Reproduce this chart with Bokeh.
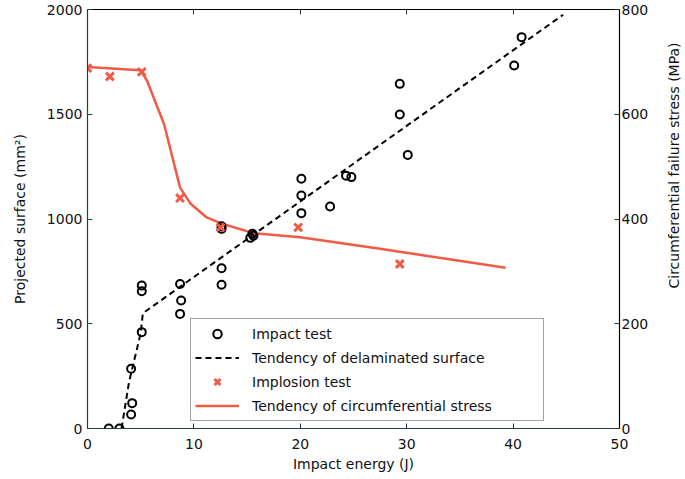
import math
from bokeh.plotting import figure
from bokeh.layouts import row
from bokeh.models import Range1d, LinearAxis, FixedTicker, Legend, LegendItem, Label
from bokeh.embed import file_html
from bokeh.resources import INLINE

# Impact test (projected surface, mm^2)
impact_x = [2.0, 3.0, 4.1, 4.2, 4.1, 5.1, 5.1, 5.1, 8.7, 8.8, 8.7, 12.6, 12.6, 12.6, 12.6,
            15.3, 15.6, 15.5, 20.1, 20.1, 20.1, 22.8, 24.3, 24.8, 29.35, 29.35, 30.1, 40.1, 40.8]
impact_y = [0, 0, 67, 121, 285, 460, 655, 682, 547, 611, 690, 686, 765, 953, 965,
            910, 920, 930, 1192, 1112, 1028, 1060, 1207, 1200, 1645, 1499, 1306, 1733, 1868]

# Tendency of delaminated surface
delam_x = [3.2, 3.9, 5.0, 5.2, 44.7]
delam_y = [0, 221, 455, 550, 1975]

# Implosion test (circumferential failure stress, MPa)
implo_x = [0.0, 2.1, 5.1, 8.7, 12.5, 19.8, 29.35]
implo_s = [688, 672, 681, 440, 384, 384, 314]

# Tendency of circumferential stress
stress_x = [0, 5, 5.6, 7.2, 8.7, 9.7, 11.2, 12.5, 15.6, 20, 27.5, 39.3]
stress_s = [690, 684, 664, 581, 460, 429, 403, 392, 373, 365, 343, 307]

x_ticks = [0, 10, 20, 30, 40, 50]
top_ticks = [10, 20, 30, 40]
y_ticks = [0, 500, 1000, 1500, 2000]
s_ticks = [0, 200, 400, 600, 800]

FONT = "DejaVu Sans"
FS = "14px"
RED = "#f25a45"
AXC = "#2a3a40"
H = 475

p = figure(width=662, height=H, output_backend="svg", toolbar_location=None,
           x_range=Range1d(0, 50), y_range=Range1d(0, 2000),
           min_border_left=87, min_border_right=43, min_border_top=9, min_border_bottom=47)
p.extra_y_ranges = {"stress": Range1d(0, 800)}
p.xgrid.visible = False
p.ygrid.visible = False
p.outline_line_color = "black"
p.outline_line_width = 1
p.background_fill_color = "white"
p.border_fill_color = "white"


def style_axis(ax, ticks):
    ax.ticker = FixedTicker(ticks=ticks)
    ax.major_tick_in = 5
    ax.major_tick_out = 0
    ax.minor_tick_line_color = None
    ax.axis_line_color = AXC
    ax.axis_line_width = 1.2
    ax.major_tick_line_color = AXC
    ax.major_label_text_font = FONT
    ax.major_label_text_font_size = FS
    ax.major_label_text_color = "#111"
    ax.axis_label_text_font = FONT
    ax.axis_label_text_font_size = FS
    ax.axis_label_text_font_style = "normal"
    ax.axis_label_text_color = "#111"


xa = p.xaxis[0]
style_axis(xa, x_ticks)
xa.axis_label = "Impact energy (J)"
xa.major_label_standoff = 10
xa.axis_label_standoff = 4

ya = p.yaxis[0]
style_axis(ya, y_ticks)
ya.axis_label = "Projected surface (mm²)"
ya.major_label_standoff = 5
ya.axis_label_standoff = 16

ra = LinearAxis(y_range_name="stress")
style_axis(ra, s_ticks)
ra.axis_line_color = "black"
ra.major_label_standoff = 2
p.add_layout(ra, "right")

ta = LinearAxis()
style_axis(ta, top_ticks)
ta.major_label_text_font_size = "1px"
ta.major_label_text_color = None
ta.major_label_standoff = 0
ta.axis_line_color = None
p.add_layout(ta, "above")

r_dash = p.line(delam_x, delam_y, line_color="black", line_width=2, line_dash="6 4")
r_line = p.line(stress_x, stress_s, y_range_name="stress", line_color=RED, line_width=2.5)
r_circ = p.scatter(impact_x, impact_y, marker="circle", size=8, fill_color=None,
                   line_color="black", line_width=2)
r_x = p.scatter(implo_x, implo_s, marker="x", size=11, y_range_name="stress",
                line_color=RED, line_width=3)

legend = Legend(items=[
    LegendItem(label="Impact test", renderers=[r_circ]),
    LegendItem(label="Tendency of delaminated surface", renderers=[r_dash]),
    LegendItem(label="Implosion test", renderers=[r_x]),
    LegendItem(label="Tendency of circumferential stress", renderers=[r_line]),
], location=(103, 7))
legend.label_text_font = FONT
legend.label_text_font_size = FS
legend.label_text_color = "#111"
legend.glyph_width = 44
legend.glyph_height = 21
legend.label_height = 21
legend.label_width = 287
legend.spacing = 3
legend.padding = 4
legend.margin = 0
legend.label_standoff = 13
legend.border_line_color = "#3a4a50"
legend.border_line_width = 1.5
legend.background_fill_alpha = 1
p.add_layout(legend, "center")

# narrow strip carrying the right-hand axis title (reads bottom to top)
p2 = figure(width=22, height=H, output_backend="svg", toolbar_location=None,
            x_range=Range1d(0, 1), y_range=Range1d(0, 1),
            min_border_left=0, min_border_right=0, min_border_top=0, min_border_bottom=0)
p2.axis.visible = False
p2.grid.visible = False
p2.outline_line_color = None
p2.background_fill_color = "white"
p2.border_fill_color = "white"
p2.add_layout(Label(x=11, y=H - 212, x_units="screen", y_units="screen",
                    text="Circumferential failure stress (MPa)", angle=math.pi / 2,
                    text_align="center", text_baseline="middle",
                    text_font=FONT, text_font_size=FS, text_color="#111"))

layout = row(p, p2, spacing=0)
open("out.html", "w").write(file_html(layout, INLINE))
